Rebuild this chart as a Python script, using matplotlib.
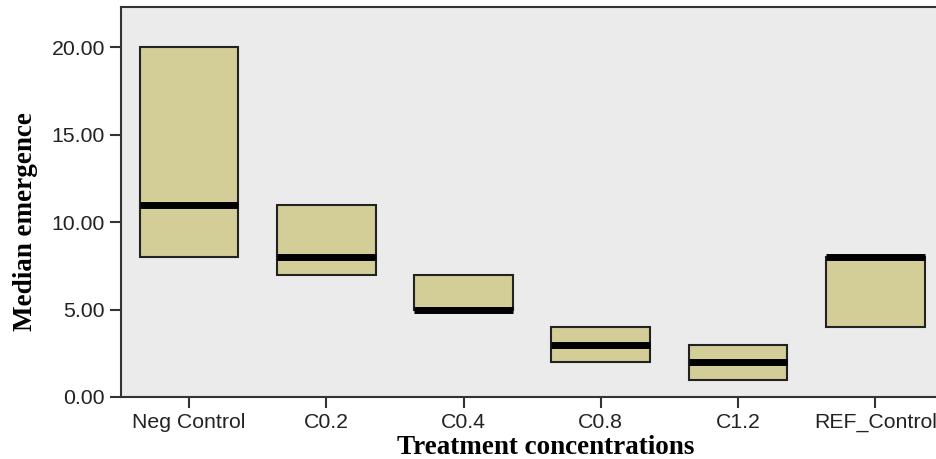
import matplotlib
matplotlib.use("Agg")
import matplotlib.pyplot as plt

categories = ["Neg Control", "C0.2", "C0.4", "C0.8", "C1.2", "REF_Control"]
q1_values = [8, 7, 5, 2, 1, 4]
median_values = [11, 8, 5, 3, 2, 8]
q3_values = [20, 11, 7, 4, 3, 8]
y_ticks = [0, 5, 10, 15, 20]

fig = plt.figure(figsize=(9.37, 4.59), dpi=100)
ax = fig.add_axes([121/937, 62/459, 1 - 121/937, 390/459])
ax.set_facecolor("#EBEBEB")

stats = []
for c, a, m, b in zip(categories, q1_values, median_values, q3_values):
    stats.append(dict(label=c, q1=a, med=m, q3=b, whislo=a, whishi=b, fliers=[]))

ax.bxp(stats, positions=range(len(categories)), widths=0.72, showcaps=False,
       showfliers=False, patch_artist=True,
       boxprops=dict(facecolor="#D3CE97", edgecolor="#222222", linewidth=1.5),
       medianprops=dict(color="black", linewidth=5, solid_capstyle="butt"),
       whiskerprops=dict(linewidth=0))

ax.set_xlim(-0.496, 5.45)
ax.set_ylim(0, 22.29)
ax.set_yticks(y_ticks)
ax.set_yticklabels([f"{v:.2f}" for v in y_ticks])
ax.set_xticks(range(len(categories)))
ax.set_xticklabels(categories)
for lab in ax.get_xticklabels() + ax.get_yticklabels():
    lab.set_family("Liberation Sans")
    lab.set_fontsize(15.3)
    lab.set_color("#222222")
ax.tick_params(axis="both", direction="out", length=8, width=1.5, color="#333333")
for s in ax.spines.values():
    s.set_linewidth(1.5)
    s.set_color("#333333")
ax.spines["right"].set_visible(False)

ax.set_ylabel("Median emergence", family="Liberation Serif", fontweight="bold",
              fontsize=19.5)
ax.yaxis.set_label_coords(-0.102, 0.449)
ax.set_xlabel("Treatment concentrations", family="Liberation Serif",
              fontweight="bold", fontsize=19.5)
ax.xaxis.set_label_coords(0.521, -0.098)

fig.savefig("out.png", dpi=100)
